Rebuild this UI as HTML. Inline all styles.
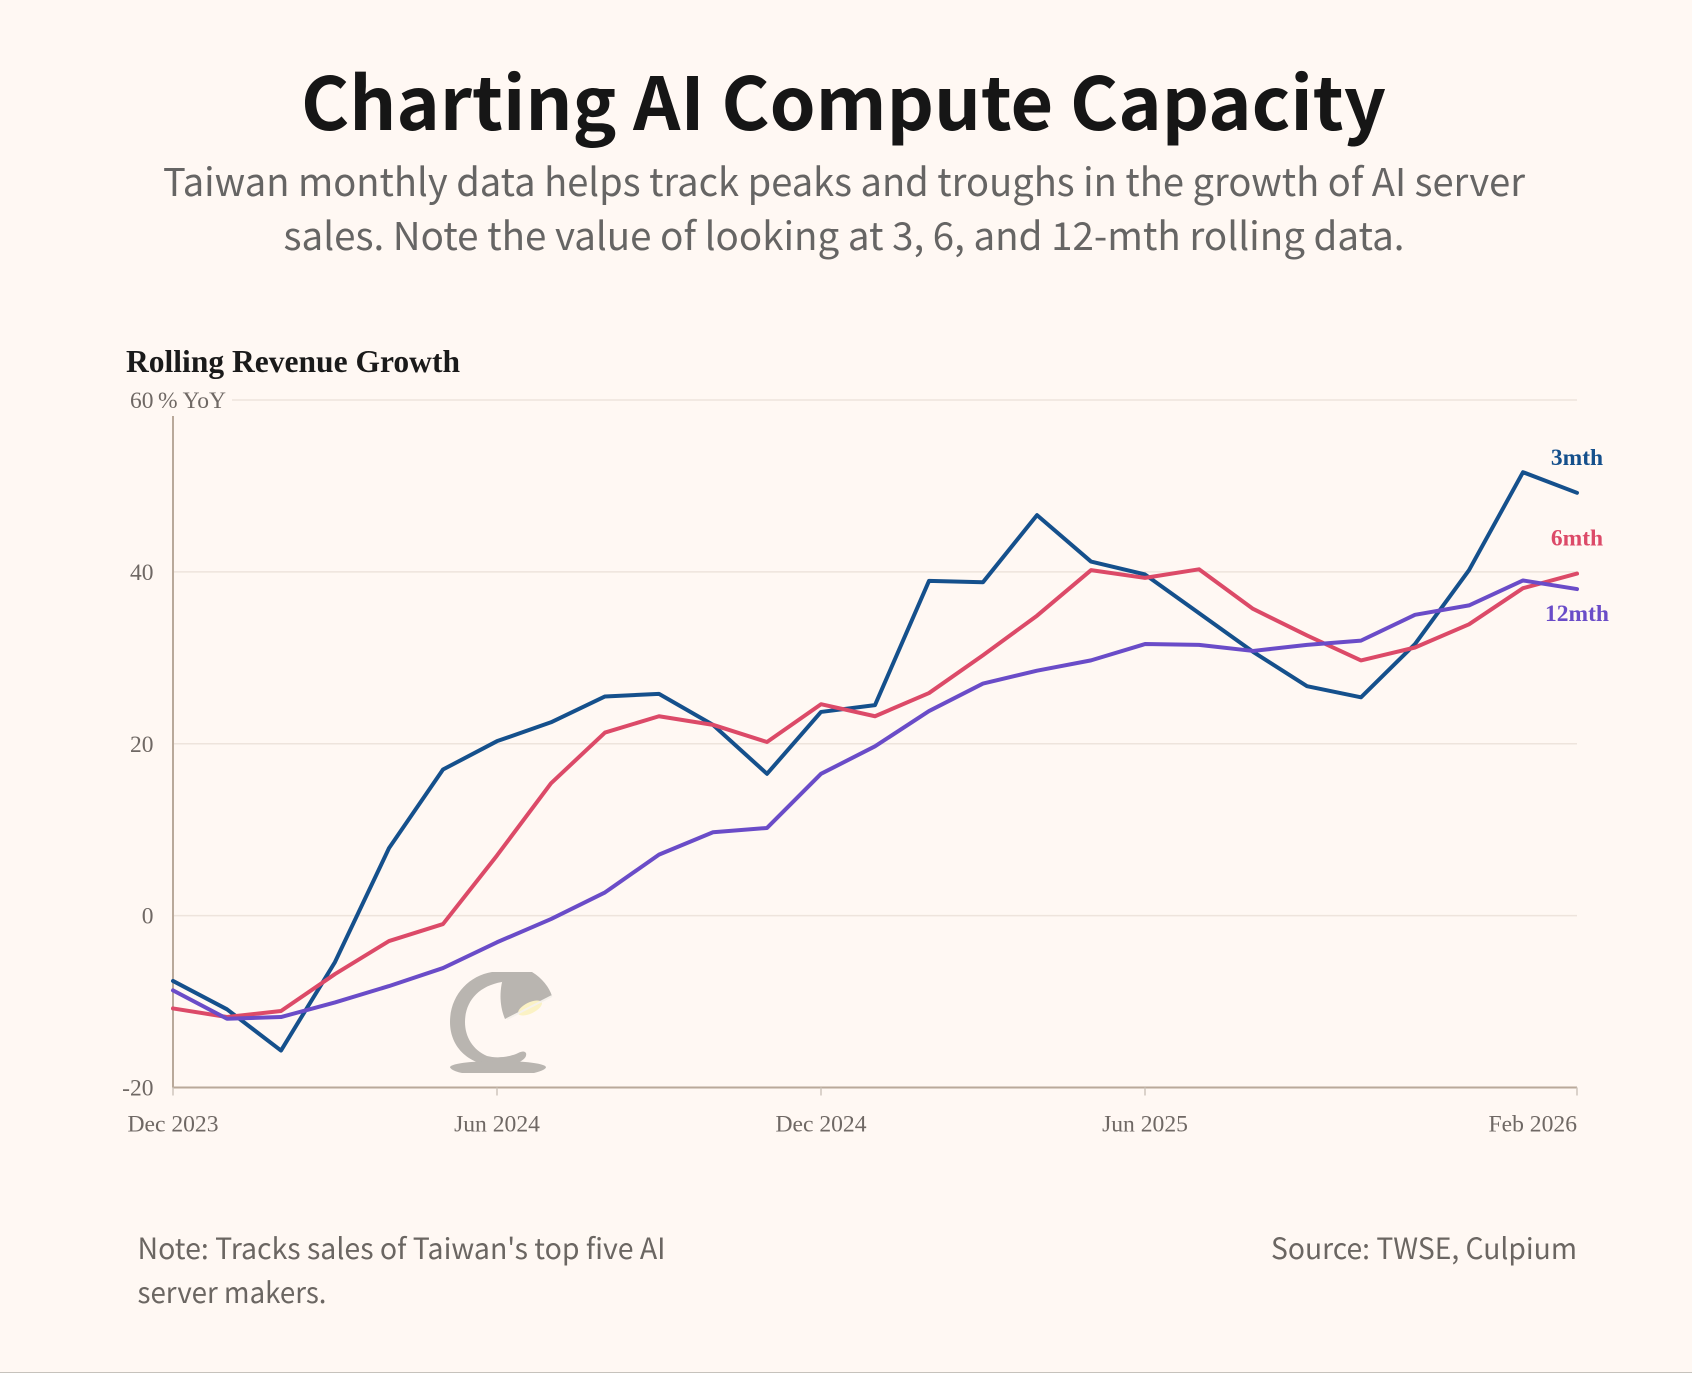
<!DOCTYPE html>
<html lang="en">
<head>
<meta charset="utf-8">
<title>Charting AI Compute Capacity</title>
<style>
html,body{margin:0;padding:0;background:#fff8f3;}
body{width:1692px;height:1373px;overflow:hidden;position:relative;}
svg{display:block;position:absolute;left:0;top:0;}
.sans{font-family:"Noto Sans CJK SC","Liberation Sans",sans-serif;}
.serif{font-family:"Liberation Serif",serif;}
</style>
</head>
<body>
<svg id="chart" width="1692" height="1373" viewBox="0 0 1692 1373" xmlns="http://www.w3.org/2000/svg">
  <rect x="0" y="0" width="1692" height="1373" fill="#fff8f3"/>
  <rect x="0" y="1372" width="1692" height="1" fill="#c6c2bc"/>
  <text class="sans" x="301" y="130" font-size="73" font-weight="700" fill="#161616" textLength="1085" lengthAdjust="spacingAndGlyphs">Charting AI Compute Capacity</text>
  <text class="sans" x="163" y="196" font-size="38.5" fill="#666564" textLength="1362" lengthAdjust="spacingAndGlyphs">Taiwan monthly data helps track peaks and troughs in the growth of AI server</text>
  <text class="sans" x="283.5" y="250" font-size="38.5" fill="#666564" textLength="1121" lengthAdjust="spacingAndGlyphs">sales. Note the value of looking at 3, 6, and 12-mth rolling data.</text>
  <text class="serif" x="126" y="372" font-size="31.5" font-weight="700" fill="#1a1a1a" textLength="334" lengthAdjust="spacingAndGlyphs">Rolling Revenue Growth</text>
  <g id="grid"></g>
  <g id="axes"></g>
  <g>
    <path fill="#b9b5b0" d="M510 972 L492 972 C468 976 450 996 450 1022 C450 1048 470 1066 498 1066 C515 1066 528 1060 526 1053 C524 1050 520 1052 516 1054 C505 1058 495 1058 487 1056 C473 1050 465 1037 465 1022 C465 1002 478 986 502 982 Z"/>
    <path fill="#b9b5b0" d="M462 1073 C452 1071 450 1068 450 1067 C452 1063 475 1061 498 1061 C522 1061 544 1063 546 1067 C546 1069 542 1071 534 1073 Z"/>
    <path fill="#b9b5b0" d="M505 972 L532 972 C542 978 549 987 552 996 L505 1019 C499 1005 499 988 505 972 Z"/>
    <ellipse cx="530" cy="1008" rx="13" ry="5.5" fill="#fbf2c4" transform="rotate(-26 530 1008)"/>
    <path d="M507 1019 L552 996" stroke="#f5f1eb" stroke-width="2" fill="none"/>
  </g>
  <g id="series"></g>
  <g id="labels"></g>
  <text class="sans" x="137.5" y="1259" font-size="29" fill="#6b6662" textLength="528" lengthAdjust="spacingAndGlyphs">Note: Tracks sales of Taiwan's top five AI</text>
  <text class="sans" x="137.5" y="1303" font-size="29" fill="#6b6662" textLength="189" lengthAdjust="spacingAndGlyphs">server makers.</text>
  <text class="sans" x="1271" y="1259" font-size="29" fill="#6b6662" textLength="306" lengthAdjust="spacingAndGlyphs">Source: TWSE, Culpium</text>
</svg>
<script>
const categories = ["Dec 2023","Jan 2024","Feb 2024","Mar 2024","Apr 2024","May 2024","Jun 2024","Jul 2024","Aug 2024","Sep 2024","Oct 2024","Nov 2024","Dec 2024","Jan 2025","Feb 2025","Mar 2025","Apr 2025","May 2025","Jun 2025","Jul 2025","Aug 2025","Sep 2025","Oct 2025","Nov 2025","Dec 2025","Jan 2026","Feb 2026"];
const values3mth = [-7.6,-10.9,-15.7,-5.4,7.85,17.0,20.3,22.5,25.5,25.8,22.2,16.5,23.7,24.5,38.95,38.8,46.6,41.2,39.7,35.2,30.7,26.7,25.4,31.6,40.2,51.6,49.2];
const values6mth = [-10.8,-11.8,-11.1,-6.8,-2.96,-0.98,7.0,15.4,21.3,23.2,22.2,20.2,24.6,23.2,25.9,30.3,34.9,40.2,39.3,40.3,35.7,32.6,29.7,31.2,33.9,38.1,39.8];
const values12mth = [-8.7,-12.0,-11.8,-10.1,-8.2,-6.1,-3.1,-0.4,2.7,7.1,9.7,10.2,16.5,19.7,23.8,27.0,28.5,29.7,31.6,31.5,30.8,31.5,32.0,35.0,36.1,39.0,38.0];
const yTicks = [-20,0,20,40,60];
const xTickLabels = ["Dec 2023","Jun 2024","Dec 2024","Jun 2025","Feb 2026"];
const seriesNames = ["3mth","6mth","12mth"];

const NS = "http://www.w3.org/2000/svg";
const plotLeft = 173, plotRight = 1577, plotTop = 400, plotBottom = 1087.5;
const yMin = -20, yMax = 60;
const xScale = i => plotLeft + (plotRight - plotLeft) * i / (categories.length - 1);
const yScale = v => plotBottom - (plotBottom - plotTop) * (v - yMin) / (yMax - yMin);

function make(tag, attrs, parent, text) {
  const el = document.createElementNS(NS, tag);
  for (const k in attrs) el.setAttribute(k, attrs[k]);
  if (text !== undefined) el.textContent = text;
  parent.appendChild(el);
  return el;
}

const gridG = document.getElementById("grid");
const axesG = document.getElementById("axes");
const seriesG = document.getElementById("series");
const labelsG = document.getElementById("labels");

yTicks.forEach(t => {
  const top = t === yMax;
  const line = make("line", {x1: top ? 232 : plotLeft, x2: plotRight, y1: yScale(t), y2: yScale(t), stroke: "#eee4dc", "stroke-width": 1.6}, gridG);
  
  
  const lab = make("text", {x: 153.5, y: yScale(t) + 8, "text-anchor": "end", "font-size": 23.5, fill: "#6f6864", "font-family": '"Liberation Serif", serif'}, axesG, String(t));
  
  
});

const unit = make("text", {x: 158, y: yScale(yMax) + 8, "font-size": 23.5, fill: "#6f6864", "font-family": '"Liberation Serif", serif', textLength: 68, lengthAdjust: "spacingAndGlyphs"}, axesG, "% YoY");



const yAxis = make("line", {x1: plotLeft, x2: plotLeft, y1: 416, y2: plotBottom, stroke: "#b9a99a", "stroke-width": 2}, axesG);


const xAxis = make("line", {x1: plotLeft, x2: plotRight, y1: plotBottom, y2: plotBottom, stroke: "#b9a99a", "stroke-width": 2}, axesG);



xTickLabels.forEach(label => {
  const i = categories.indexOf(label);
  const x = xScale(i);
  const tick = make("line", {x1: x, x2: x, y1: plotBottom, y2: plotBottom + 8, stroke: "#cfc6bd", "stroke-width": 1.5}, axesG);
  
  
  const last = i === categories.length - 1;
  const lab = make("text", {x: x, y: 1131.5, "text-anchor": last ? "end" : "middle", "font-size": 23.6, fill: "#6f6864", "font-family": '"Liberation Serif", serif'}, axesG, label);
  
  
});

const seriesValues = [values3mth, values6mth, values12mth];
const seriesColors = ["#15508c", "#dc4a68", "#6a4cc8"];
const labelOffsets = [-28, -28, 32];

seriesNames.forEach((name, s) => {
  const vals = seriesValues[s];
  const d = vals.map((v, i) => (i ? "L" : "M") + xScale(i).toFixed(2) + " " + yScale(v).toFixed(2)).join(" ");
  const path = make("path", {d: d, fill: "none", stroke: seriesColors[s], "stroke-width": 4, "stroke-linejoin": "round", "stroke-linecap": "round"}, seriesG);
  
  
  const lab = make("text", {x: plotRight, y: yScale(vals[vals.length - 1]) + labelOffsets[s], "text-anchor": "middle", "font-size": 23.5, "font-weight": 700, fill: seriesColors[s], "font-family": '"Liberation Serif", serif'}, labelsG, name);
  
  
});
</script>
</body>
</html>
